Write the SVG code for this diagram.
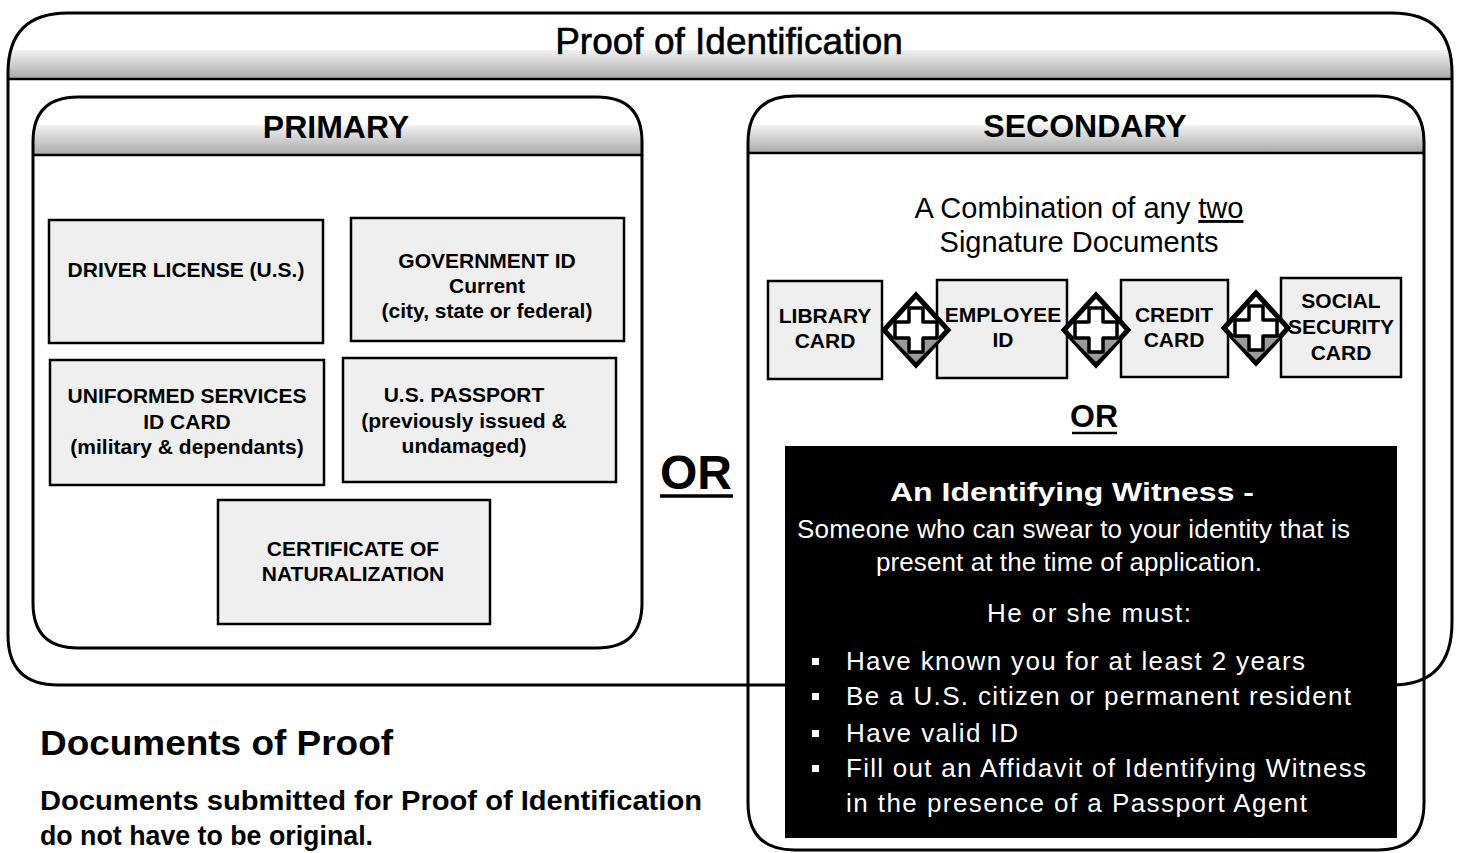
<svg xmlns="http://www.w3.org/2000/svg" width="1459" height="853" viewBox="0 0 1459 853">
<style>
.frame{fill:none;stroke:#000;stroke-width:3}
.div{stroke:#000;stroke-width:2.5}
.node{fill:#efefef;stroke:#000;stroke-width:2.5}
.nt{font-family:"Liberation Sans",Arial,sans-serif;font-weight:bold;font-size:21px;fill:#000;text-anchor:middle}
.st{font-family:"Liberation Sans",Arial,sans-serif;font-weight:bold;font-size:21px;fill:#000;text-anchor:middle}
.hd{font-family:"Liberation Sans",Arial,sans-serif;font-weight:bold;fill:#000;text-anchor:middle}
.wt{font-family:"Liberation Sans",Arial,sans-serif;font-size:26px;fill:#fff}
.bt{font-family:"Liberation Sans",Arial,sans-serif;fill:#000}
</style>
<defs>
<linearGradient id="band" x1="0" y1="0" x2="0" y2="1">
<stop offset="0" stop-color="#f2f2f2"/>
<stop offset="1" stop-color="#a9a9a9"/>
</linearGradient>
<clipPath id="cOuter"><path d="M8 73 Q8 13 68 13 H1392 Q1452 13 1452 73 V622 Q1452 685 1392 685 H58 Q8 685 8 635 Z"/></clipPath>
<clipPath id="cPrim"><path d="M33 142 Q33 97 78 97 H597 Q642 97 642 142 V603 Q642 648 597 648 H78 Q33 648 33 603 Z"/></clipPath>
<clipPath id="cSec"><path d="M748 143 Q748 96 795 96 H1377 Q1424 96 1424 143 V803 Q1424 850 1377 850 H795 Q748 850 748 803 Z"/></clipPath>
<g id="plusIcon">
<polygon points="0,-35 32,0 0,35 -32,0" fill="#fff" stroke="#000" stroke-width="5"/>
<polygon points="-23,9 23,9 0,32" fill="#9a9a9a"/>
<path d="M-7,-22 H7 V-8 H21 V8 H7 V22 H-7 V8 H-21 V-8 H-7 Z" fill="#fff" stroke="#000" stroke-width="3.5" stroke-linejoin="round"/>
</g>
</defs>

<g id="outer-container">
<rect x="0" y="50" width="1459" height="29" fill="url(#band)" clip-path="url(#cOuter)"/>
<path class="frame" d="M8 73 Q8 13 68 13 H1392 Q1452 13 1452 73 V622 Q1452 685 1392 685 H58 Q8 685 8 635 Z"/>
<line class="div" x1="8" y1="79" x2="1452" y2="79"/>
<text class="bt" x="729" y="54" font-size="37" text-anchor="middle" stroke="#000" stroke-width="0.6">Proof of Identification</text>
</g>

<g id="primary">
<rect x="0" y="125" width="700" height="30" fill="url(#band)" clip-path="url(#cPrim)"/>
<path class="frame" d="M33 142 Q33 97 78 97 H597 Q642 97 642 142 V603 Q642 648 597 648 H78 Q33 648 33 603 Z"/>
<line class="div" x1="33" y1="155" x2="642" y2="155"/>
<text class="hd" x="336" y="138" font-size="32">PRIMARY</text>
</g>

<g id="secondary">
<rect x="740" y="125" width="700" height="28" fill="url(#band)" clip-path="url(#cSec)"/>
<path class="frame" d="M748 143 Q748 96 795 96 H1377 Q1424 96 1424 143 V803 Q1424 850 1377 850 H795 Q748 850 748 803 Z"/>
<line class="div" x1="748" y1="153" x2="1424" y2="153"/>
<text class="hd" x="1085" y="137" font-size="32">SECONDARY</text>
<text class="bt" x="1079" y="218" font-size="29" text-anchor="middle">A Combination of any <tspan text-decoration="underline">two</tspan></text>
<text class="bt" x="1079" y="252" font-size="29" text-anchor="middle">Signature Documents</text>
</g>

<g id="node-driver">
<rect class="node" x="49" y="220" width="274" height="123"/>
<text class="nt" x="186" y="277">DRIVER LICENSE (U.S.)</text>
</g>
<g id="node-government">
<rect class="node" x="351" y="218" width="273" height="123"/>
<text class="nt" x="487" y="268">GOVERNMENT ID</text>
<text class="nt" x="487" y="293">Current</text>
<text class="nt" x="487" y="318">(city, state or federal)</text>
</g>
<g id="node-uniformed">
<rect class="node" x="50" y="360" width="274" height="125"/>
<text class="nt" x="187" y="403">UNIFORMED SERVICES</text>
<text class="nt" x="187" y="429">ID CARD</text>
<text class="nt" x="187" y="454">(military &amp; dependants)</text>
</g>
<g id="node-passport">
<rect class="node" x="343" y="358" width="273" height="124"/>
<text class="nt" x="464" y="402">U.S. PASSPORT</text>
<text class="nt" x="464" y="428">(previously issued &amp;</text>
<text class="nt" x="464" y="453">undamaged)</text>
</g>
<g id="node-certificate">
<rect class="node" x="218" y="500" width="272" height="124"/>
<text class="nt" x="353" y="556">CERTIFICATE OF</text>
<text class="nt" x="353" y="581">NATURALIZATION</text>
</g>

<g id="or-main">
<text class="hd" x="696" y="489" font-size="48">OR</text>
<line x1="660" y1="496" x2="733" y2="496" stroke="#000" stroke-width="3.5"/>
</g>

<g id="node-library">
<rect class="node" x="768" y="281" width="114" height="98"/>
<text class="st" x="825" y="323">LIBRARY</text>
<text class="st" x="825" y="348">CARD</text>
</g>
<g id="node-employee">
<rect class="node" x="937" y="280" width="130" height="98"/>
<text class="st" x="1003" y="322">EMPLOYEE</text>
<text class="st" x="1003" y="347">ID</text>
</g>
<g id="node-credit">
<rect class="node" x="1121" y="280" width="107" height="97"/>
<text class="st" x="1174" y="322">CREDIT</text>
<text class="st" x="1174" y="347">CARD</text>
</g>
<g id="node-social">
<rect class="node" x="1281" y="278" width="120" height="99"/>
<text class="st" x="1341" y="308">SOCIAL</text>
<text class="st" x="1341" y="334">SECURITY</text>
<text class="st" x="1341" y="360">CARD</text>
</g>

<g id="connectors">
<use href="#plusIcon" x="916" y="330"/>
<use href="#plusIcon" x="1096" y="330"/>
<use href="#plusIcon" x="1256" y="328"/>
</g>

<g id="or-secondary">
<text class="hd" x="1094" y="427" font-size="32">OR</text>
<line x1="1072" y1="433" x2="1117" y2="433" stroke="#000" stroke-width="2.5"/>
</g>

<g id="witness">
<rect x="785" y="446" width="612" height="392" fill="#000"/>
<text class="wt" x="1072" y="501" font-size="33" font-weight="bold" text-anchor="middle" textLength="364" lengthAdjust="spacingAndGlyphs">An Identifying Witness -</text>
<text class="wt" x="797" y="538" textLength="553" lengthAdjust="spacing">Someone who can swear to your identity that is</text>
<text class="wt" x="876" y="571" textLength="386" lengthAdjust="spacing">present at the time of application.</text>
<text class="wt" x="987" y="622" textLength="204" lengthAdjust="spacing">He or she must:</text>
<rect x="812" y="658" width="7" height="7" fill="#fff"/>
<rect x="812" y="693" width="7" height="7" fill="#fff"/>
<rect x="812" y="730" width="7" height="7" fill="#fff"/>
<rect x="812" y="765" width="7" height="7" fill="#fff"/>
<text class="wt" x="846" y="670" textLength="459" lengthAdjust="spacing">Have known you for at least 2 years</text>
<text class="wt" x="846" y="705" textLength="505" lengthAdjust="spacing">Be a U.S. citizen or permanent resident</text>
<text class="wt" x="846" y="742" textLength="172" lengthAdjust="spacing">Have valid ID</text>
<text class="wt" x="846" y="777" textLength="520" lengthAdjust="spacing">Fill out an Affidavit of Identifying Witness</text>
<text class="wt" x="846" y="812" textLength="461" lengthAdjust="spacing">in the presence of a Passport Agent</text>
</g>

<g id="documents-of-proof">
<text class="bt" x="40" y="755" font-size="35" font-weight="bold" textLength="353" lengthAdjust="spacingAndGlyphs">Documents of Proof</text>
<text class="bt" x="40" y="810" font-size="27" font-weight="bold" textLength="662" lengthAdjust="spacingAndGlyphs">Documents submitted for Proof of Identification</text>
<text class="bt" x="40" y="845" font-size="27" font-weight="bold" textLength="333" lengthAdjust="spacingAndGlyphs">do not have to be original.</text>
</g>
</svg>
